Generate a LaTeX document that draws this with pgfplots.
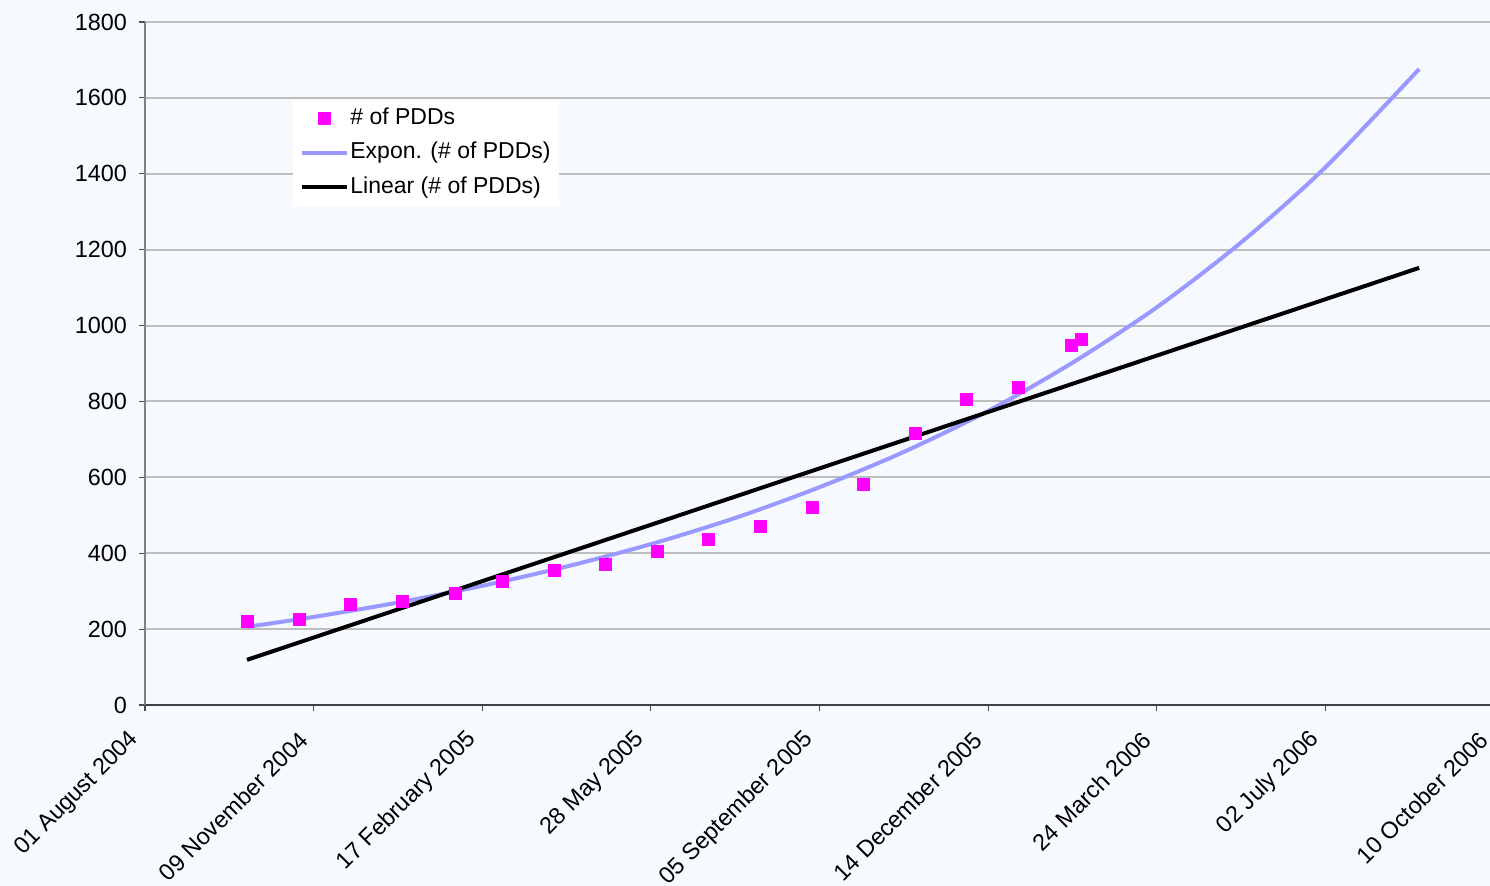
\documentclass[border=0pt]{standalone}
\usepackage{pgfplots}
\pgfplotsset{compat=1.18}
\usepackage{fontspec}
\setmainfont{Liberation Sans}
\definecolor{bg}{HTML}{F6F9FD}
\definecolor{gridc}{HTML}{BEBEBE}
\definecolor{expon}{HTML}{9999FF}
\definecolor{pdd}{HTML}{FF00FF}
\pgfplotsset{
  lineleg/.style={legend image code/.code={\draw[##1] (0bp,0bp) -- (22.5bp,0bp);}},
  markleg/.style={legend image code/.code={\draw[##1] plot coordinates {(11.25bp,0bp)};}},
}
\begin{document}
\begin{tikzpicture}
\fill[bg] (-72.5bp,-90.5bp) rectangle (672.5bp,352.5bp);
\begin{axis}[
  scale only axis,
  width=674.5bp, height=341.5bp,
  xmin=0, xmax=800, ymin=0, ymax=1800,
  axis lines=left,
  axis line style={-},
  x axis line style={draw=black!75, line width=0.75bp},
  y axis line style={draw=black!50, line width=0.75bp},
  xtick={0,100,...,800},
  xticklabels={01 August 2004,09 November 2004,17 February 2005,28 May 2005,05 September 2005,14 December 2005,24 March 2006,02 July 2006,10 October 2006},
  ytick={0,200,...,1800},
  tick align=outside,
  tick style={black!70, line width=0.6bp},
  major tick length=3bp,
  xmajorgrids=false,
  ymajorgrids=true,
  grid style={draw=gridc, line width=1bp},
  /pgf/number format/assume math mode=true,
  /pgf/number format/1000 sep={},
  ticklabel style={font=\fontsize{11.7bp}{13bp}\selectfont, text=black},
  xticklabel style={xshift=-2.5bp, rotate=45, anchor=east},
  xticklabel shift=10bp,
  yticklabel shift=2.5bp,
  clip=false,
  legend style={at={(rel axis cs:0.1097,0.8873)}, anchor=north west,
    fill=white, draw=none, inner xsep=3.5bp, inner ysep=3.5bp,
    font=\fontsize{11.5bp}{13bp}\selectfont, row sep=5.25bp,
    nodes={inner xsep=0.5bp, inner ysep=0bp, text height=9bp, text depth=3bp}},
  legend cell align=left,
]
\addplot[only marks, mark=square*, mark size=3bp, pdd, mark options={draw=pdd, fill=pdd}, markleg]
  coordinates {
  (60.7,219.5) (91.5,225.9) (122.0,266.2) (152.8,272.2) (183.8,294.4)
  (212.1,326.8) (242.7,355.8) (272.8,370.8) (303.8,405.9) (334.0,436.7)
  (365.1,471.7) (395.9,521.8) (426.0,582.4) (456.8,716.1) (486.9,805.7)
  (517.7,838.1) (549.1,946.9) (555.1,963.8)
  };
\addlegendentry{\# of PDDs}
\addplot[expon, line width=2bp, smooth, no marks, lineleg]
  coordinates {
  (60.5,206) (100,232) (150,270) (200,314) (250,365) (300,424) (350,493)
  (400,574) (450,667) (500,775) (550,902) (600,1048) (650,1219) (700,1417) (755.6,1676)
  };
\addlegendentry{Expon. (\# of PDDs)}
\addplot[black, line width=2bp, no marks, lineleg]
  coordinates {(60.5,119) (755.6,1152)};
\addlegendentry{Linear (\# of PDDs)}
\end{axis}
\pgfresetboundingbox
\useasboundingbox (-72.5bp,-90.5bp) rectangle (672.5bp,352.5bp);
\end{tikzpicture}
\end{document}
